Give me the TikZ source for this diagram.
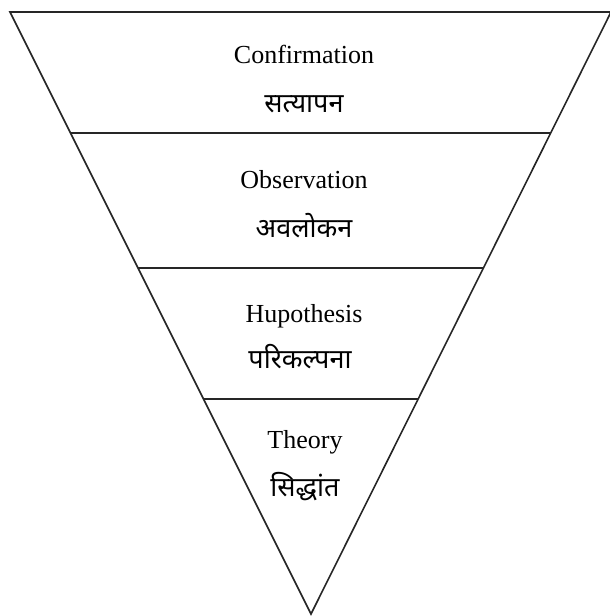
\documentclass[tikz,border=0pt]{standalone}
\usepackage{fontspec}
\setmainfont{Liberation Serif}
\newfontfamily\hindifont[Script=Devanagari]{Noto Sans}
\usetikzlibrary{positioning}

\tikzset{
    eng/.style={anchor=base, inner sep=0pt, font=\fontsize{26}{30}\selectfont},
    hin/.style={anchor=base, inner sep=0pt, font=\hindifont\fontsize{27}{31}\selectfont},
    level/.style={line width=1.6pt, draw=black!85}
}

\begin{document}
\begin{tikzpicture}[x=1pt,y=-1pt]
    \useasboundingbox (0,0) rectangle (610,616);
    % outer funnel
    \coordinate (tl) at (10,12);
    \coordinate (tr) at (611,12);
    \coordinate (apex) at (311,614);
    \draw[level, line join=miter] (tl) -- (tr) -- (apex) -- cycle;
    % split points on the two sides
    \path (tl) -- (apex) coordinate[pos=0.201] (l1) coordinate[pos=0.425] (l2) coordinate[pos=0.643] (l3);
    \path (tr) -- (apex) coordinate[pos=0.201] (r1) coordinate[pos=0.425] (r2) coordinate[pos=0.643] (r3);
    \draw[level] (l1) -- (r1);
    \draw[level] (l2) -- (r2);
    \draw[level] (l3) -- (r3);
    % labels
    \node[eng] (conf) at (304,63) {Confirmation};
    \node[hin] (satya) at (304,112) {सत्यापन};
    \node[eng] (obs) at (304,188) {Observation};
    \node[hin] (aval) at (304,237) {अवलोकन};
    \node[eng] (hypo) at (304,322) {Hupothesis};
    \node[hin] (pari) at (300,368) {परिकल्पना};
    \node[eng] (theo) at (305,448) {Theory};
    \node[hin] (sidd) at (305,496) {सिद्धांत};
\end{tikzpicture}
\end{document}
